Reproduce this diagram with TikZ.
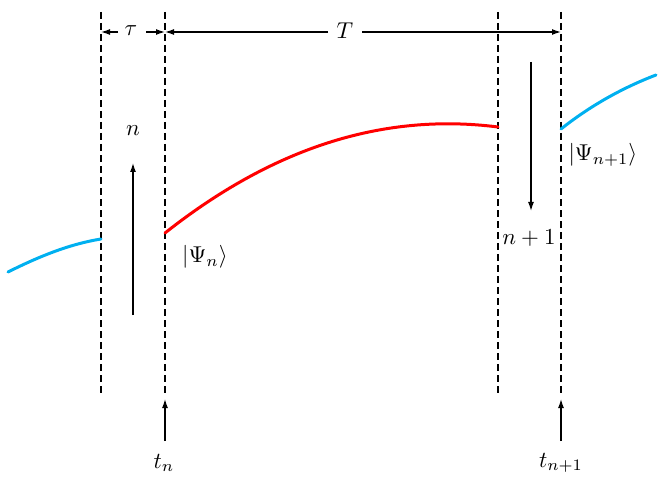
\documentclass[tikz,border=0pt]{standalone}
\usetikzlibrary{arrows.meta}
\definecolor{cyanline}{RGB}{0,176,240}
\begin{document}
\begin{tikzpicture}[x=1bp,y=-1bp,
  dline/.style={line width=1.3bp, dash pattern=on 7bp off 4bp},
  arr/.style={line width=1.3bp, -{Latex[length=9bp,width=6bp]}},
  lab/.style={inner sep=1bp, scale=2.3},
  wave/.style={line width=3bp, line cap=round}]
\useasboundingbox (0,0) rectangle (670,483);
% dashed verticals
\coordinate (a1) at (101,12); \coordinate (a2) at (101,395);
\coordinate (b1) at (165,12); \coordinate (b2) at (165,395);
\coordinate (c1) at (498,12); \coordinate (c2) at (498,395);
\coordinate (d1) at (561,12); \coordinate (d2) at (561,395);
\draw[dline] (a1) -- (a2);
\draw[dline] (b1) -- (b2);
\draw[dline] (c1) -- (c2);
\draw[dline] (d1) -- (d2);
% top interval arrows
\node[lab] (tau) at (131,31) {$\tau$};
\node[lab] (T) at (345,31) {$T$};
\coordinate (ta) at (101,32); \coordinate (tb) at (165,32);
\coordinate (tc) at (561,32);
\draw[arr] (118,32) -- (ta);
\draw[arr] (146,32) -- (tb);
\draw[arr] (328,32) -- (tb);
\draw[arr] (362,32) -- (tc);
% n arrows
\coordinate (n0) at (133,315); \coordinate (n1) at (133,163);
\draw[arr] (n0) -- (n1);
\node[lab] (nl) at (133,131) {$n$};
\coordinate (m0) at (531,62); \coordinate (m1) at (531,211);
\draw[arr] (m0) -- (m1);
\node[lab] (ml) at (529,238) {$n+1$};
% time arrows
\coordinate (s0) at (165,441); \coordinate (s1) at (165,399);
\draw[arr] (s0) -- (s1);
\node[lab] (tn) at (164,463) {$t_n$};
\coordinate (u0) at (561,441); \coordinate (u1) at (561,399);
\draw[arr] (u0) -- (u1);
\node[lab] (tn1) at (561,463) {$t_{n+1}$};
% wavefunctions
\draw[wave, red] (165,233) .. controls (270,150) and (380,112) .. (498,127);
\draw[wave, cyanline] (8,272) .. controls (40,256) and (70,244) .. (101,239);
\draw[wave, cyanline] (561,129) .. controls (590,106) and (622,88) .. (656,75);
\node[lab] (psin) at (205,257) {$|\Psi_n\rangle$};
\node[lab] (psin1) at (603,155) {$|\Psi_{n+1}\rangle$};
\end{tikzpicture}
\end{document}
